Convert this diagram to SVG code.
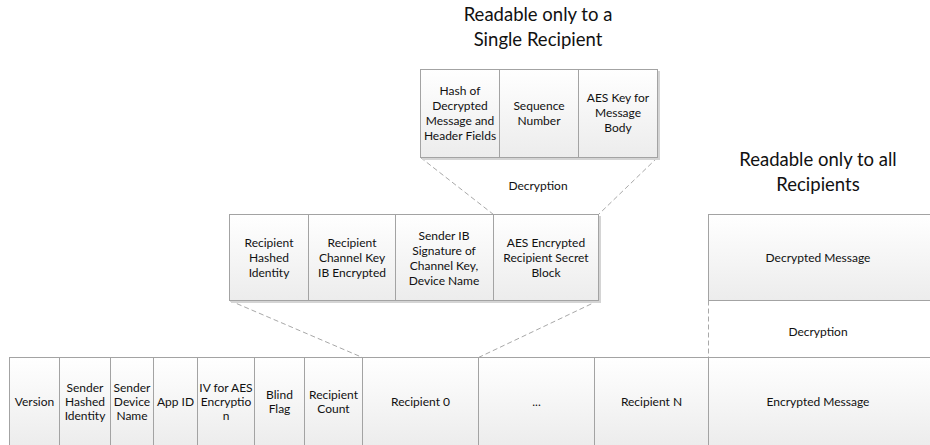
<svg xmlns="http://www.w3.org/2000/svg" width="930" height="445" viewBox="0 0 930 445">
<defs>
<linearGradient id="cellfill" x1="0" y1="0" x2="0" y2="1">
<stop offset="0" stop-color="#ffffff"/>
<stop offset="1" stop-color="#ececec"/>
</linearGradient>
<style>
.cell{fill:url(#cellfill);stroke:#a3a3a3;stroke-width:1}
.shadow{fill:#d4d4d4}
.t{font-family:Lato,"Liberation Sans",sans-serif;font-size:12px;fill:#111;text-anchor:middle}
.title{font-family:Lato,"Liberation Sans",sans-serif;font-size:18.5px;fill:#111;text-anchor:middle}
.conn{fill:none;stroke:#a8a8a8;stroke-width:1;stroke-dasharray:5 3}
</style>
</defs>
<rect width="930" height="445" fill="#ffffff"/>

<g id="title-single">
<text class="title" x="538" y="21">Readable only to a</text>
<text class="title" x="538" y="46">Single Recipient</text>
</g>
<g id="title-all">
<text class="title" x="818" y="166">Readable only to all</text>
<text class="title" x="818" y="191">Recipients</text>
</g>

<g id="connectors">
<line class="conn" x1="420.5" y1="157.5" x2="493.5" y2="214.5"/>
<line class="conn" x1="657.5" y1="157.5" x2="598.5" y2="214.5"/>
<line class="conn" x1="229.5" y1="300.5" x2="362.5" y2="357.5"/>
<line class="conn" x1="598.5" y1="300.5" x2="478.5" y2="357.5"/>
<line class="conn" x1="708.5" y1="300.5" x2="708.5" y2="357.5"/>
</g>

<g id="label-decryption-1"><text class="t" x="538" y="190">Decryption</text></g>
<g id="label-decryption-2"><text class="t" x="818" y="336">Decryption</text></g>

<!-- top row -->
<rect class="shadow" x="422" y="71" width="238" height="89"/>
<g id="hash-of-decrypted">
<rect class="cell" x="420.5" y="69.5" width="79" height="88"/>
<text class="t" x="460" y="95">Hash of</text>
<text class="t" x="460" y="110">Decrypted</text>
<text class="t" x="460" y="125">Message and</text>
<text class="t" x="460" y="140">Header Fields</text>
</g>
<g id="sequence-number">
<rect class="cell" x="499.5" y="69.5" width="79" height="88"/>
<text class="t" x="539" y="110">Sequence</text>
<text class="t" x="539" y="125">Number</text>
</g>
<g id="aes-key-body">
<rect class="cell" x="578.5" y="69.5" width="79" height="88"/>
<text class="t" x="618" y="102">AES Key for</text>
<text class="t" x="618" y="117">Message</text>
<text class="t" x="618" y="132">Body</text>
</g>

<!-- middle row -->
<rect class="shadow" x="231" y="216" width="370" height="87"/>
<g id="recipient-hashed-identity">
<rect class="cell" x="229.5" y="214.5" width="79" height="86"/>
<text class="t" x="269" y="247">Recipient</text>
<text class="t" x="269" y="262">Hashed</text>
<text class="t" x="269" y="277">Identity</text>
</g>
<g id="recipient-channel-key">
<rect class="cell" x="308.5" y="214.5" width="87" height="86"/>
<text class="t" x="352" y="247">Recipient</text>
<text class="t" x="352" y="262">Channel Key</text>
<text class="t" x="352" y="277">IB Encrypted</text>
</g>
<g id="sender-ib-signature">
<rect class="cell" x="395.5" y="214.5" width="98" height="86"/>
<text class="t" x="444" y="239.5">Sender IB</text>
<text class="t" x="444" y="254.5">Signature of</text>
<text class="t" x="444" y="269.5">Channel Key,</text>
<text class="t" x="444" y="284.5">Device Name</text>
</g>
<g id="aes-encrypted-secret-block">
<rect class="cell" x="493.5" y="214.5" width="105" height="86"/>
<text class="t" x="546" y="247">AES Encrypted</text>
<text class="t" x="546" y="262">Recipient Secret</text>
<text class="t" x="546" y="277">Block</text>
</g>

<g id="decrypted-message">
<rect class="cell" x="708.5" y="214.5" width="223" height="86"/>
<text class="t" x="818" y="262">Decrypted Message</text>
</g>

<!-- bottom row -->
<g id="version">
<rect class="cell" x="9.5" y="357.5" width="50" height="90"/>
<text class="t" x="34.5" y="406">Version</text>
</g>
<g id="sender-hashed-identity">
<rect class="cell" x="59.5" y="357.5" width="51" height="90"/>
<text class="t" x="85" y="392">Sender</text>
<text class="t" x="85" y="406">Hashed</text>
<text class="t" x="85" y="420">Identity</text>
</g>
<g id="sender-device-name">
<rect class="cell" x="110.5" y="357.5" width="43" height="90"/>
<text class="t" x="132" y="392">Sender</text>
<text class="t" x="132" y="406">Device</text>
<text class="t" x="132" y="420">Name</text>
</g>
<g id="app-id">
<rect class="cell" x="153.5" y="357.5" width="44" height="90"/>
<text class="t" x="175.5" y="406">App ID</text>
</g>
<g id="iv-aes">
<rect class="cell" x="197.5" y="357.5" width="57" height="90"/>
<text class="t" x="226" y="392">IV for AES</text>
<text class="t" x="226" y="406">Encryptio</text>
<text class="t" x="226" y="420">n</text>
</g>
<g id="blind-flag">
<rect class="cell" x="254.5" y="357.5" width="50" height="90"/>
<text class="t" x="279.5" y="399">Blind</text>
<text class="t" x="279.5" y="413">Flag</text>
</g>
<g id="recipient-count">
<rect class="cell" x="304.5" y="357.5" width="58" height="90"/>
<text class="t" x="333.5" y="399">Recipient</text>
<text class="t" x="333.5" y="413">Count</text>
</g>
<g id="recipient-0">
<rect class="cell" x="362.5" y="357.5" width="116" height="90"/>
<text class="t" x="420.5" y="406">Recipient 0</text>
</g>
<g id="ellipsis">
<rect class="cell" x="478.5" y="357.5" width="116" height="90"/>
<text class="t" x="536.5" y="406">...</text>
</g>
<g id="recipient-n">
<rect class="cell" x="594.5" y="357.5" width="114" height="90"/>
<text class="t" x="651.5" y="406">Recipient N</text>
</g>
<g id="encrypted-message">
<rect class="cell" x="708.5" y="357.5" width="223" height="90"/>
<text class="t" x="818" y="406">Encrypted Message</text>
</g>
</svg>
